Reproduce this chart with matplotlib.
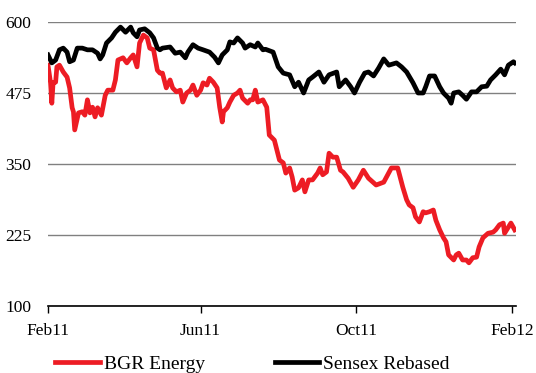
import matplotlib.pyplot as plt
import matplotlib.dates as mdates
import numpy as np

# days since 1 Feb 2011
dias_bgr = [0, 2, 3, 4, 6, 7, 9, 12, 15, 17, 19, 20, 21, 24, 27, 29, 31, 33, 35, 37,
            39, 42, 45, 47, 51, 53, 55, 59, 62, 65, 67, 70, 72, 75, 78, 80, 83, 86, 88, 90,
            93, 96, 98, 101, 104, 106, 109, 112, 114, 117, 120, 122, 125, 127, 130, 133, 135, 137, 138, 141,
            143, 146, 149, 151, 153, 157, 159, 161, 163, 165, 169, 172, 174, 178, 182, 185, 187, 190, 192, 194,
            197, 200, 202, 205, 208, 212, 214, 216, 219, 221, 224, 227, 230, 232, 236, 240, 244, 248, 252, 258,
            264, 270, 275, 279, 282, 284, 287, 289, 292, 295, 297, 300, 303, 305, 308, 311, 313, 315, 319, 321,
            323, 326, 329, 331, 334, 337, 339, 342, 346, 350, 352, 355, 358, 359, 362, 364, 367]
bgr_energy = [524, 493, 457, 493, 494, 521, 524, 512, 503, 484, 449, 442, 410, 440, 442, 436, 463, 440, 450, 433,
              449, 436, 471, 480, 480, 498, 533, 537, 528, 537, 542, 521, 563, 577, 572, 554, 551, 515, 510, 510,
              484, 498, 484, 477, 480, 459, 475, 480, 489, 471, 480, 493, 489, 501, 494, 484, 450, 424, 442, 449,
              459, 471, 475, 480, 466, 457, 463, 463, 480, 459, 463, 450, 401, 392, 357, 352, 334, 343, 327, 304,
              308, 322, 301, 322, 322, 334, 343, 331, 336, 369, 362, 362, 339, 336, 325, 309, 322, 339, 325, 313,
              318, 343, 343, 309, 287, 278, 273, 257, 248, 266, 264, 266, 269, 251, 234, 220, 213, 190, 181, 190,
              193, 181, 181, 176, 185, 186, 204, 220, 228, 230, 234, 243, 246, 228, 239, 246, 234]

dias_sensex = [0, 3, 6, 9, 12, 15, 17, 20, 23, 27, 31, 35, 39, 41, 43, 46, 50, 53, 57, 61,
               65, 67, 70, 72, 76, 80, 83, 86, 88, 90, 96, 100, 104, 108, 110, 114, 118, 122, 127, 131,
               134, 137, 141, 143, 146, 149, 153, 155, 159, 163, 165, 169, 171, 177, 181, 185, 190, 194, 197, 201,
               205, 208, 213, 217, 221, 227, 229, 234, 238, 241, 245, 249, 252, 256, 260, 264, 268, 274, 278, 282,
               287, 291, 295, 297, 300, 304, 308, 311, 315, 317, 319, 323, 326, 329, 333, 337, 341, 345, 348, 352,
               356, 359, 362, 366, 367]
sensex_rebased = [542, 528, 533, 551, 554, 547, 530, 533, 554, 554, 551, 551, 545, 535, 542, 563, 572, 582, 591, 582,
                  591, 581, 574, 586, 588, 581, 572, 554, 551, 554, 556, 545, 547, 537, 547, 560, 554, 551, 547, 538,
                  528, 542, 551, 565, 563, 572, 563, 554, 560, 556, 563, 551, 552, 547, 521, 510, 507, 486, 494, 475,
                  498, 503, 512, 494, 507, 512, 486, 498, 486, 475, 494, 510, 512, 505, 519, 535, 524, 528, 521, 512,
                  493, 475, 475, 486, 505, 505, 486, 475, 466, 457, 475, 477, 471, 464, 477, 477, 486, 487, 498, 507,
                  517, 507, 524, 530, 528]

inicio = np.datetime64("2011-02-01")
datas_bgr = inicio + np.array(dias_bgr).astype("timedelta64[D]")
datas_sensex = inicio + np.array(dias_sensex).astype("timedelta64[D]")

plt.rcParams["font.family"] = ["Liberation Serif", "DejaVu Serif"]

fig = plt.figure(figsize=(5.36, 3.73), dpi=100)
ax = fig.add_axes([48 / 536, 1 - 306 / 373, 468 / 536, 284 / 373])

ax.plot(datas_bgr, bgr_energy, color="#ED1C24", lw=3.4, label="BGR Energy")
ax.plot(datas_sensex, sensex_rebased, color="black", lw=3.4, label="Sensex Rebased")

ax.set_ylim(100, 600)
ax.set_yticks([100, 225, 350, 475, 600])
ax.set_xlim(inicio, inicio + np.timedelta64(368, "D"))
ax.set_xticks([np.datetime64("2011-02-01"), np.datetime64("2011-06-01"),
               np.datetime64("2011-10-01"), np.datetime64("2012-02-01")])
ax.xaxis.set_major_formatter(mdates.DateFormatter("%b%y"))

ax.grid(axis="y", color="#808080", lw=1)
ax.set_axisbelow(True)
for lado in ["top", "right", "left"]:
    ax.spines[lado].set_visible(False)
ax.spines["bottom"].set_color("black")
ax.spines["bottom"].set_linewidth(1.2)
ax.tick_params(axis="y", length=0, pad=12, labelsize=12.5)
ax.tick_params(axis="x", length=5, width=1, direction="out", pad=7, labelsize=12.5)

fig.legend(loc="center left", bbox_to_anchor=(55 / 536, 1 - 364 / 373), ncol=2,
           frameon=False, fontsize=14, handlelength=2.3, handletextpad=0.2,
           columnspacing=3.6, borderpad=0, borderaxespad=0)

fig.savefig("out.png", dpi=100)
